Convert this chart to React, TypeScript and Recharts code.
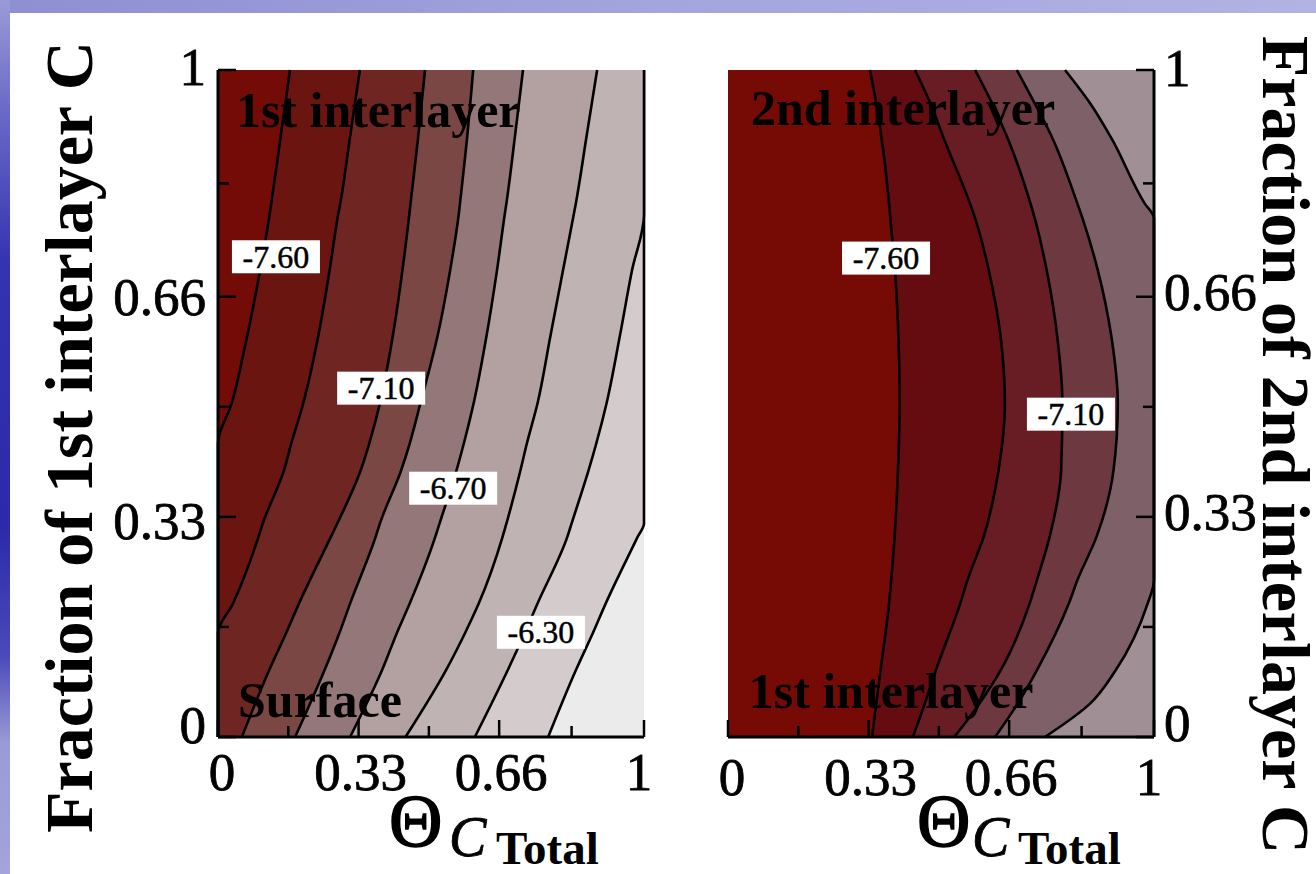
import React from 'react';
import { ComposedChart, Area, XAxis, YAxis, ReferenceDot, CartesianGrid } from 'recharts';

const SERIF = "'Liberation Serif', 'Times New Roman', Times, 'DejaVu Serif', serif";

// shared axis ticks (both axes of both panels)
const axisTicks = [0, 0.165, 0.33, 0.495, 0.66, 0.83, 1];
const axisTickLabels = ['0', '', '0.33', '', '0.66', '', '1'];

// ---------- left panel: fraction of 1st interlayer C ----------
const leftFraction = [0, 0.1, 0.156, 0.2, 0.3, 0.32, 0.4, 0.44, 0.5, 0.6, 0.7, 0.783, 0.8, 0.9, 1];
const leftContourA = [0, 0, 0, 0, 0, 0, 0, 0, 0.032, 0.068, 0.099, 0.121, 0.125, 0.147, 0.169];
const leftContourB = [0, 0, 0, 0.035, 0.095, 0.105, 0.155, 0.172, 0.2, 0.235, 0.262, 0.282, 0.287, 0.31, 0.333];
const leftContourC = [0.056, 0.12, 0.16, 0.19, 0.265, 0.28, 0.335, 0.355, 0.38, 0.41, 0.433, 0.449, 0.452, 0.47, 0.486];
const leftContourD = [0.181, 0.25, 0.285, 0.31, 0.37, 0.38, 0.43, 0.45, 0.475, 0.515, 0.545, 0.565, 0.568, 0.585, 0.599];
const leftContourE = [0.31, 0.385, 0.42, 0.45, 0.51, 0.52, 0.56, 0.577, 0.6, 0.63, 0.655, 0.673, 0.677, 0.697, 0.716];
const leftContourF = [0.44, 0.535, 0.58, 0.612, 0.668, 0.677, 0.71, 0.725, 0.75, 0.78, 0.81, 0.835, 0.84, 0.865, 0.89];
const leftContourG = [0.603, 0.68, 0.72, 0.75, 0.82, 0.83, 0.87, 0.888, 0.912, 0.943, 0.972, 1, 1, 1, 1];
const leftContourH = [0.775, 0.84, 0.88, 0.91, 0.985, 1, 1, 1, 1, 1, 1, 1, 1, 1, 1];
const leftBandColors = ['#730b06', '#6b1510', '#6f2521', '#7b4745', '#937779', '#b3a1a1', '#c0b3b3', '#d4cccc', '#ecebeb'];
const leftTagX = [0.136, 0.383, 0.552, 0.758];
const leftTagY = [0.72, 0.523, 0.373, 0.157];
const leftTagText = ['-7.60', '-7.10', '-6.70', '-6.30'];
const leftNoteX = [0.042, 0.047];
const leftNoteY = [0.915, 0.03];
const leftNoteText = ['1st interlayer', 'Surface'];

// ---------- right panel: fraction of 2nd interlayer C ----------
const rightFraction = [0, 0.05, 0.1, 0.2, 0.235, 0.3, 0.4, 0.5, 0.6, 0.7, 0.778, 0.8, 0.9, 0.95, 1];
const rightContour1 = [0.338, 0.348, 0.358, 0.378, 0.383, 0.391, 0.399, 0.403, 0.4, 0.392, 0.381, 0.378, 0.36, 0.348, 0.333];
const rightContour2 = [0.434, 0.462, 0.488, 0.545, 0.562, 0.6, 0.635, 0.65, 0.64, 0.612, 0.58, 0.568, 0.505, 0.475, 0.439];
const rightContour3 = [0.531, 0.59, 0.64, 0.708, 0.725, 0.755, 0.782, 0.785, 0.773, 0.748, 0.72, 0.71, 0.655, 0.62, 0.58];
const rightContour4 = [0.627, 0.68, 0.725, 0.8, 0.82, 0.865, 0.905, 0.915, 0.9, 0.868, 0.832, 0.82, 0.76, 0.72, 0.678];
const rightContour5 = [0.744, 0.85, 0.91, 0.985, 1, 1, 1, 1, 1, 1, 1, 0.978, 0.898, 0.85, 0.791];
const rightBandColors = ['#750b04', '#650c10', '#681d25', '#6e3840', '#7e6068', '#a09096'];
const rightTagX = [0.371, 0.805];
const rightTagY = [0.718, 0.484];
const rightTagText = ['-7.60', '-7.10'];
const rightNoteX = [0.054, 0.049];
const rightNoteY = [0.918, 0.0435];
const rightNoteText = ['2nd interlayer', '1st interlayer'];

const leftKeys = ['H', 'G', 'F', 'E', 'D', 'C', 'B', 'A'];
const leftValues = [leftContourH, leftContourG, leftContourF, leftContourE, leftContourD, leftContourC, leftContourB, leftContourA];
const leftRows = leftFraction.map((y, i) => {
  const row: Record<string, number> = { y };
  leftKeys.forEach((k, j) => { row[k] = leftValues[j][i]; });
  return row;
});
const rightKeys = ['L5', 'L4', 'L3', 'L2', 'L1'];
const rightValues = [rightContour5, rightContour4, rightContour3, rightContour2, rightContour1];
const rightRows = rightFraction.map((y, i) => {
  const row: Record<string, number> = { y };
  rightKeys.forEach((k, j) => { row[k] = rightValues[j][i]; });
  return row;
});

const tickIdx = (v: number) => axisTicks.findIndex((t) => Math.abs(t - v) < 1e-6);

const LeftTick = (props: any) => {
  const { x, y, payload, showLabel } = props;
  const label = axisTickLabels[tickIdx(payload.value)];
  const len = label ? 18 : 11;
  return (
    <g>
      <line x1={x} y1={y} x2={x + len} y2={y} stroke="#000" strokeWidth={2.5} />
      {showLabel && label ? (
        <text x={x - 12} y={y + 18 + (label === '0' ? -12 : label === '1' ? -3 : label === '0.33' ? 4 : 0)} textAnchor="end" fontSize={53} fontFamily={SERIF} fill="#000" stroke="#000" strokeWidth={0.8}>{label}</text>
      ) : null}
    </g>
  );
};
const RightTick = (props: any) => {
  const { x, y, payload, showLabel } = props;
  const label = axisTickLabels[tickIdx(payload.value)];
  const len = label ? 18 : 11;
  return (
    <g>
      <line x1={x - len} y1={y} x2={x} y2={y} stroke="#000" strokeWidth={2.5} />
      {showLabel && label ? (
        <text x={x + 10} y={y + 18 + (label === '0' ? -14 : label === '1' ? -2 : -5)} textAnchor="start" fontSize={53} fontFamily={SERIF} fill="#000" stroke="#000" strokeWidth={0.8}>{label}</text>
      ) : null}
    </g>
  );
};
const BottomTick = (props: any) => {
  const { x, y, payload, labelDy } = props;
  const label = axisTickLabels[tickIdx(payload.value)];
  const len = label ? 17 : 11;
  return (
    <g>
      <line x1={x} y1={y} x2={x} y2={y - len} stroke="#000" strokeWidth={2.5} />
      {label ? (
        <text x={x + (label === '1' ? -5 : label === '0' ? 4 : 2)} y={y + labelDy} textAnchor="middle" fontSize={53} fontFamily={SERIF} fill="#000" stroke="#000" strokeWidth={0.8}>{label}</text>
      ) : null}
    </g>
  );
};
const TopTick = (props: any) => {
  const { x, y, payload } = props;
  const label = axisTickLabels[tickIdx(payload.value)];
  const len = label ? 17 : 9;
  return <line x1={x} y1={y} x2={x} y2={y + len} stroke="#000" strokeWidth={2.5} />;
};

const XTitle = (props: any) => {
  const vb = props.viewBox && typeof props.viewBox.x === 'number' ? props.viewBox : { x: props.fallbackX, y: 737 };
  const x0 = vb.x + props.thetaDx;
  const y0 = vb.y;
  return (
    <g fill="#000" fontFamily={SERIF}>
      <text x={x0} y={y0 + 109} fontSize={74} stroke="#000" strokeWidth={1.5}>Θ</text>
      <text x={x0 + props.cDx} y={y0 + 119} fontSize={56} fontStyle="italic" stroke="#000" strokeWidth={0.8}>C</text>
      <text x={x0 + props.totalDx} y={y0 + 127} fontSize={47} fontWeight="bold">Total</text>
    </g>
  );
};
const YTitle = (props: any) => {
  const vb = props.viewBox && typeof props.viewBox.x === 'number' ? props.viewBox : props.fallback;
  const cx = vb.x + props.offX;
  const cy = vb.y + props.offY;
  return (
    <text transform={`rotate(${props.rot} ${cx} ${cy})`} x={cx} y={cy} textAnchor="middle" fontSize={68} fontWeight="bold" fontFamily={SERIF} fill="#000">
      {props.text}
    </text>
  );
};

const ContourTag = ({ cx, cy, text }: any) => (
  <g>
    <rect x={cx - 44} y={cy - 16.5} width={88} height={33} fill="#fff" />
    <text x={cx} y={cy + 11} textAnchor="middle" fontSize={32} fontFamily={SERIF} fill="#000" stroke="#000" strokeWidth={0.5}>{text}</text>
  </g>
);
const Note = ({ cx, cy, text }: any) => (
  <text x={cx} y={cy} fontSize={50} fontWeight="bold" fontFamily={SERIF} fill="#000">{text}</text>
);

const frame = { stroke: '#000', strokeWidth: 3 };
const LINE_W = 2.6;

export default function App() {
  return (
    <div style={{ position: 'absolute', left: 0, top: 0, width: 1316, height: 874, background: '#fff', overflow: 'hidden' }}>
      <div style={{ position: 'absolute', left: 0, top: 0, width: 1316, height: 13, background: 'linear-gradient(to right, #8e8ed2, #a4a4de 50%, #b2b2e4)' }} />
      <div style={{ position: 'absolute', left: 0, top: 0, width: 10, height: 874, background: 'linear-gradient(to bottom, #9a9ad8 0%, #6c6cc8 12%, #3434b2 30%, #2a2aaa 60%, #4a4abb 75%, #9a9ad6 85%, #a4a4da 100%)' }} />

      <div style={{ position: 'absolute', left: 0, top: 0 }}>
        <ComposedChart layout="vertical" width={660} height={874} data={leftRows} margin={{ top: 70, right: 16, bottom: 0, left: 0 }}>
          <CartesianGrid horizontal={false} vertical={false} fill={leftBandColors[8]} fillOpacity={1} />
          {leftKeys.map((k, j) => (
            <Area key={k} dataKey={k} type="monotone" stroke="#000" strokeWidth={LINE_W} fill={leftBandColors[7 - j]} fillOpacity={1} dot={false} activeDot={false} isAnimationActive={false} />
          ))}
          {leftTagText.map((t, i) => (
            <ReferenceDot key={'lt' + i} x={leftTagX[i]} y={leftTagY[i]} r={0} shape={(p: any) => <ContourTag cx={p.cx} cy={p.cy} text={t} />} />
          ))}
          {leftNoteText.map((t, i) => (
            <ReferenceDot key={'ln' + i} x={leftNoteX[i]} y={leftNoteY[i]} r={0} shape={(p: any) => <Note cx={p.cx} cy={p.cy} text={t} />} />
          ))}
          <XAxis type="number" domain={[0, 1]} ticks={axisTicks} interval={0} orientation="bottom" height={137} axisLine={frame} tickLine={false} tickSize={0} tickMargin={0} tick={<BottomTick labelDy={53} />} label={<XTitle fallbackX={218} thetaDx={171} cDx={60} totalDx={107} />} />
          <XAxis xAxisId="top" type="number" domain={[0, 1]} ticks={axisTicks} interval={0} orientation="top" height={0} axisLine={frame} tickLine={false} tickSize={0} tickMargin={0} tick={<TopTick />} />
          <YAxis type="number" dataKey="y" reversed domain={[0, 1]} ticks={axisTicks} interval={0} orientation="left" width={218} axisLine={frame} tickLine={false} tickSize={0} tickMargin={0} tick={<LeftTick showLabel />} label={<YTitle text="Fraction of 1st interlayer C" rot={-90} offX={92} offY={367} fallback={{ x: 0, y: 70 }} />} />
          <YAxis yAxisId="right" type="number" reversed domain={[0, 1]} ticks={axisTicks} interval={0} orientation="right" width={0} axisLine={frame} tickLine={false} tickSize={0} tickMargin={0} tick={<RightTick />} />
        </ComposedChart>
      </div>

      <div style={{ position: 'absolute', left: 660, top: 0 }}>
        <ComposedChart layout="vertical" width={656} height={874} data={rightRows} margin={{ top: 70, right: 0, bottom: 0, left: 68 }}>
          <CartesianGrid horizontal={false} vertical={false} fill={rightBandColors[5]} fillOpacity={1} />
          {rightKeys.map((k, j) => (
            <Area key={k} dataKey={k} type="monotone" stroke="#000" strokeWidth={LINE_W} fill={rightBandColors[4 - j]} fillOpacity={1} dot={false} activeDot={false} isAnimationActive={false} />
          ))}
          {rightTagText.map((t, i) => (
            <ReferenceDot key={'rt' + i} x={rightTagX[i]} y={rightTagY[i]} r={0} shape={(p: any) => <ContourTag cx={p.cx} cy={p.cy} text={t} />} />
          ))}
          {rightNoteText.map((t, i) => (
            <ReferenceDot key={'rn' + i} x={rightNoteX[i]} y={rightNoteY[i]} r={0} shape={(p: any) => <Note cx={p.cx} cy={p.cy} text={t} />} />
          ))}
          <XAxis type="number" domain={[0, 1]} ticks={axisTicks} interval={0} orientation="bottom" height={137} axisLine={frame} tickLine={false} tickSize={0} tickMargin={0} tick={<BottomTick labelDy={58} />} label={<XTitle fallbackX={68} thetaDx={189} cDx={55} totalDx={101} />} />
          <XAxis xAxisId="top" type="number" domain={[0, 1]} ticks={axisTicks} interval={0} orientation="top" height={0} axisLine={frame} tickLine={false} tickSize={0} tickMargin={0} tick={<TopTick />} />
          <YAxis type="number" dataKey="y" reversed domain={[0, 1]} ticks={axisTicks} interval={0} orientation="right" width={162} axisLine={frame} tickLine={false} tickSize={0} tickMargin={0} tick={<RightTick showLabel />} label={<YTitle text="Fraction of 2nd interlayer C" rot={90} offX={109} offY={375} fallback={{ x: 494, y: 70 }} />} />
          <YAxis yAxisId="left" type="number" reversed domain={[0, 1]} ticks={axisTicks} interval={0} orientation="left" width={0} axisLine={frame} tickLine={false} tickSize={0} tickMargin={0} tick={<LeftTick />} />
        </ComposedChart>
      </div>
    </div>
  );
}
